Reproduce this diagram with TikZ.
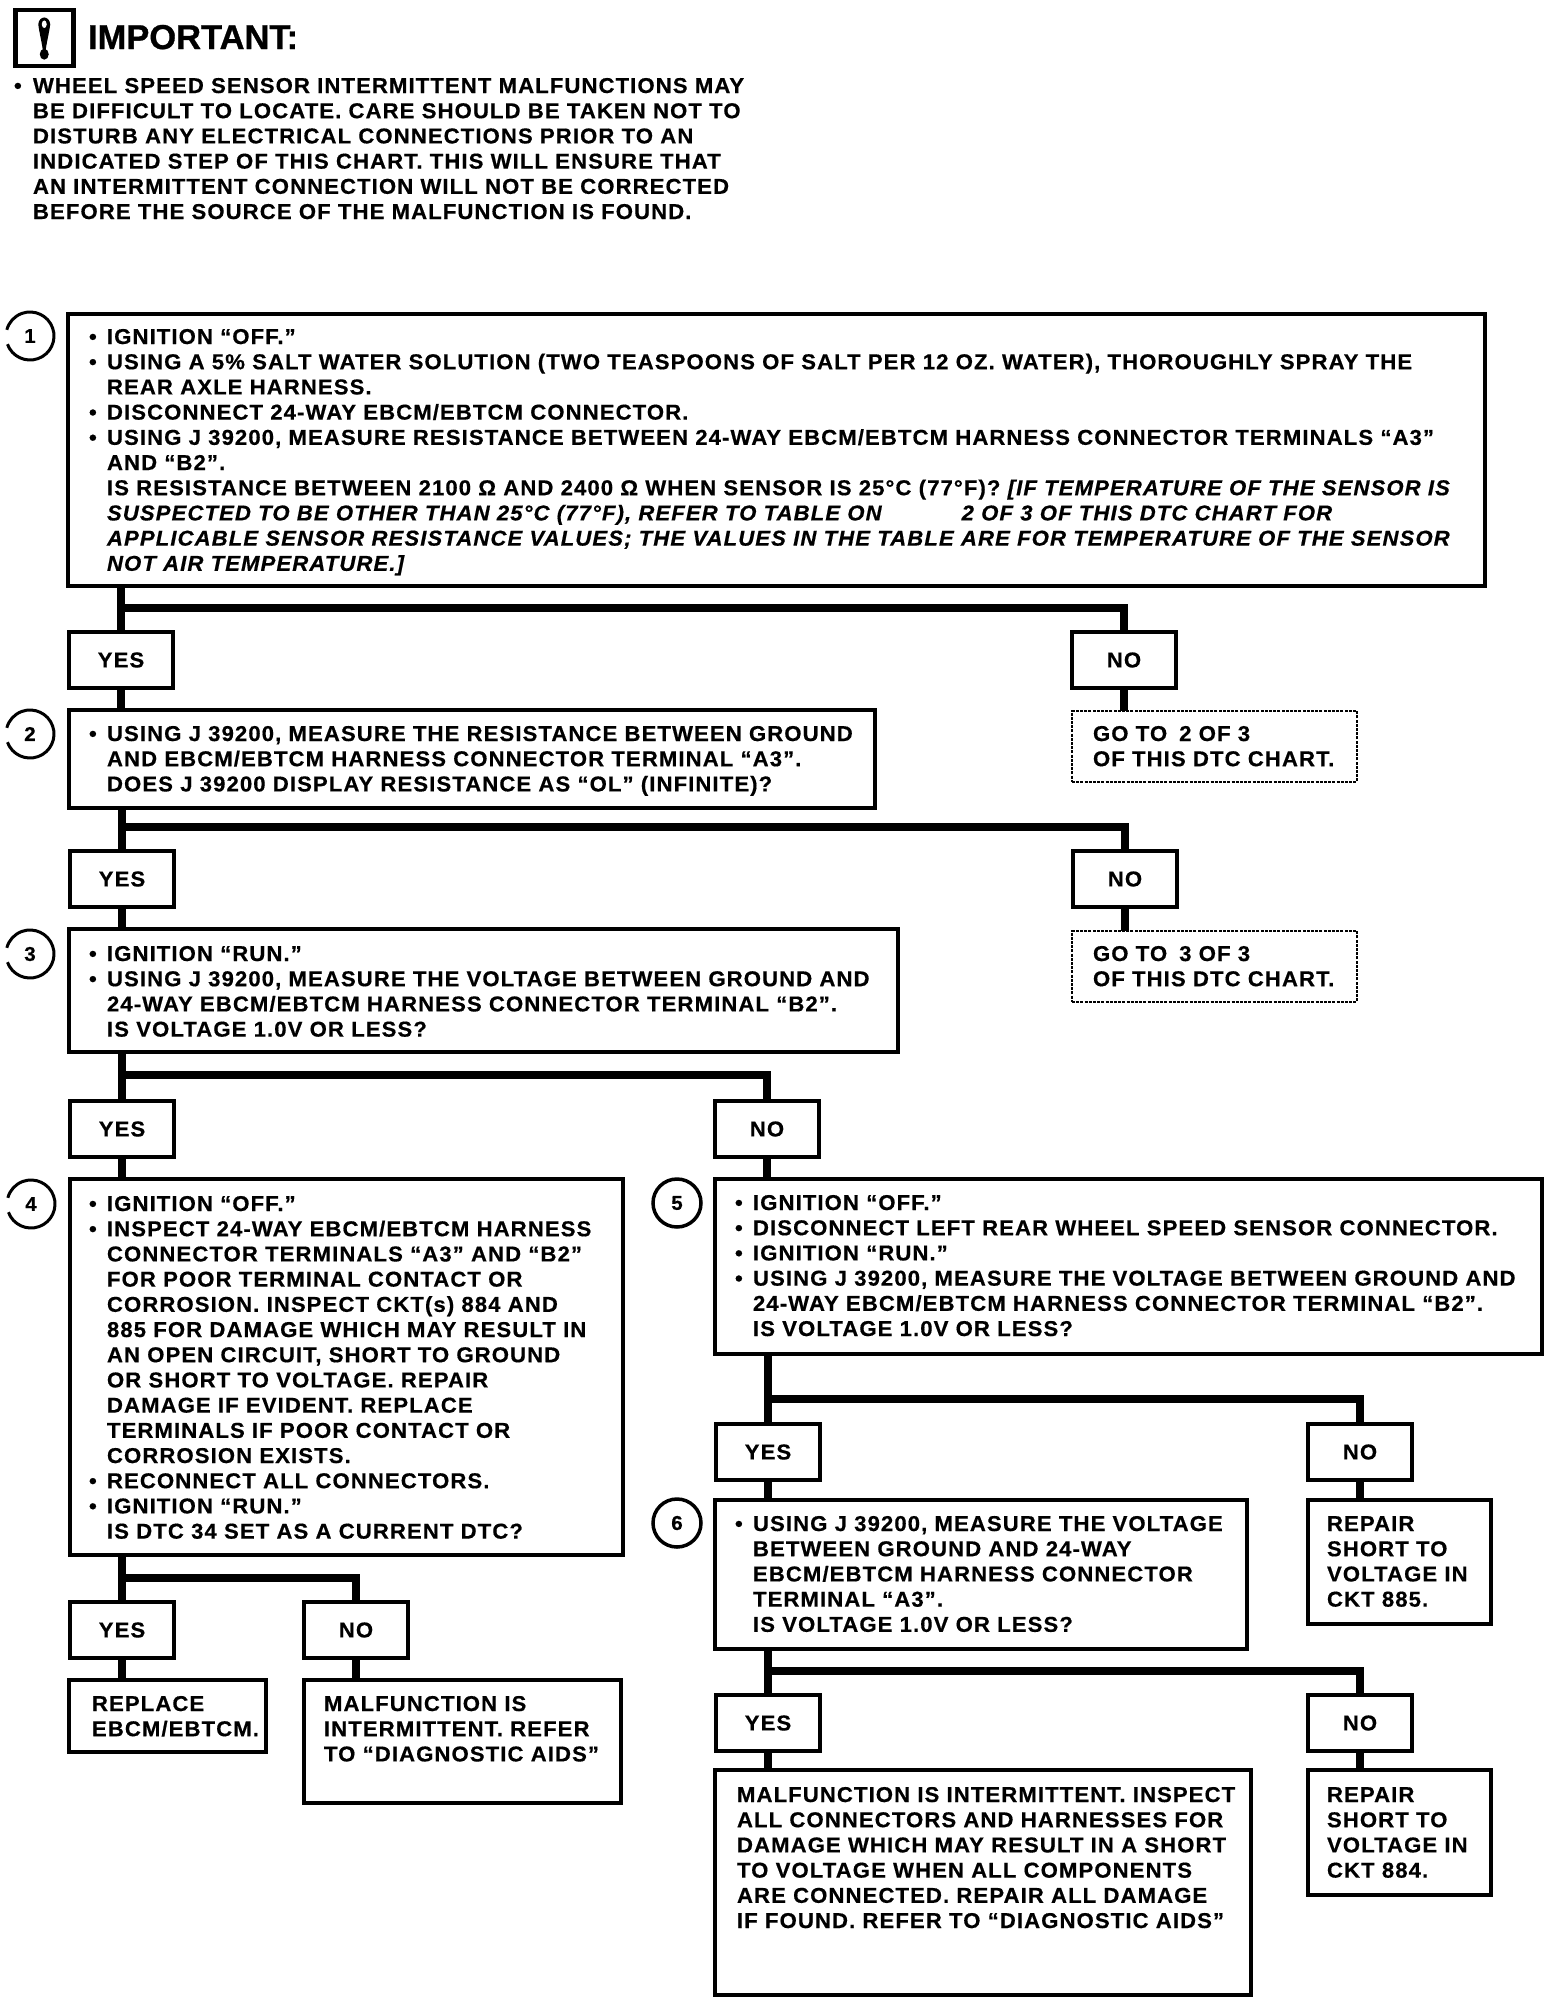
\documentclass[tikz,border=0pt]{standalone}
\usepackage{fontspec}
\setmainfont{Liberation Sans}[LetterSpace=5,FakeStretch=1.03,BoldFeatures={FakeBold=0.5},BoldItalicFeatures={FakeBold=0.5}]
\newfontfamily\impfont{Liberation Sans}[BoldFeatures={FakeBold=0.8}]
\newcommand{\rl}{\vrule height 16pt depth 5pt width 0pt}
\newcommand{\pln}[1]{\hbox{\rl\hspace{19pt}#1}}
\newcommand{\nln}[1]{\hbox{\rl #1}}
\newcommand{\bln}[1]{\hbox{\rl\makebox[19pt][l]{\hspace{1pt}\textbullet}#1}}
\newcommand{\fnt}{\fontsize{21.5}{25.2}\selectfont\bfseries\baselineskip=25.2pt\lineskiplimit=-100pt\relax}
% name, x0,y0,x1,y1, text x, first baseline y, lines, extra style
\newcommand{\bx}[9][stepbox]{%
  \pgfmathsetlengthmacro{\bW}{#4-#2}%
  \pgfmathsetlengthmacro{\bH}{#5-#3}%
  \pgfmathsetlengthmacro{\bPx}{#6-#2}%
  \pgfmathsetlengthmacro{\bPy}{#7-#3-16}%
  \node[#1,minimum width=\bW,minimum height=\bH] (#8) at (#2,#3)
   {\vbox to \bH{\hsize=\bW\fnt\hrule height 0pt width \bW\relax\vskip\bPy\relax\moveright\bPx\vbox{#9}\vss}};%
}
\tikzset{
  x=1pt,y=-1pt,
  stepbox/.style={draw=black,line width=3.5pt,fill=white,anchor=north west,inner sep=0pt,outer sep=0pt},
  gotobox/.style={stepbox,line width=2.5pt,dash pattern=on 3pt off 1.2pt},
  ans/.style={draw=black,line width=4pt,fill=white,minimum width=104pt,minimum height=56pt,inner sep=0pt,outer sep=0pt,font=\fontsize{21.5}{25}\selectfont\bfseries},
  conn/.style={draw=black,line width=7.5pt,line join=miter},
  num/.style={circle,minimum size=48pt,inner sep=0pt,outer sep=0pt,font=\fontsize{20}{24}\selectfont\bfseries},
  ring/.style={draw=black,line width=3pt},
  free/.style={anchor=north west,inner sep=0pt,outer sep=0pt}
}
\begin{document}
\begin{tikzpicture}
\useasboundingbox[fill=white] (0,0) rectangle (1568,2002);
% header
\node[draw=black,line width=4.5pt,minimum width=58pt,minimum height=56pt,inner sep=0pt,anchor=north west] (icon) at (13,8) {};
\begin{scope}[shift={(icon.center)}]
\fill (-6,-14) .. controls (-5,-23) and (5,-23) .. (6,-14)
  .. controls (5,-6) and (2,6) .. (1.5,12) -- (-1.5,12) .. controls (-2,6) and (-5,-6) .. (-6,-14) -- cycle;
\fill[white] (-2.5,-14) .. controls (-2,-19) and (2,-19) .. (2.5,-14) .. controls (2,-9) and (-2,-9) .. (-2.5,-14) -- cycle;
\fill (0,16) circle[x radius=4.5,y radius=5.5];
\end{scope}
\node[free,anchor=base west] (imp) at (88,49) {\impfont\fontsize{34.5}{36}\selectfont\bfseries IMPORTANT:};
\node[free] (note) at (14,77) {\vbox{\fnt
 \hbox{\rl\makebox[19pt][l]{\textbullet}WHEEL SPEED SENSOR INTERMITTENT MALFUNCTIONS MAY}
 \hbox{\rl\hspace{19pt}BE DIFFICULT TO LOCATE. CARE SHOULD BE TAKEN NOT TO}
 \hbox{\rl\hspace{19pt}DISTURB ANY ELECTRICAL CONNECTIONS PRIOR TO AN}
 \hbox{\rl\hspace{19pt}INDICATED STEP OF THIS CHART. THIS WILL ENSURE THAT}
 \hbox{\rl\hspace{19pt}AN INTERMITTENT CONNECTION WILL NOT BE CORRECTED}
 \hbox{\rl\hspace{19pt}BEFORE THE SOURCE OF THE MALFUNCTION IS FOUND.}}};
% step boxes
\bx{68}{314}{1485}{586}{88}{344}{b1}{%
 \bln{IGNITION “OFF.”}
 \bln{USING A 5\% SALT WATER SOLUTION (TWO TEASPOONS OF SALT PER 12 OZ. WATER), THOROUGHLY SPRAY THE}
 \pln{REAR AXLE HARNESS.}
 \bln{DISCONNECT 24-WAY EBCM/EBTCM CONNECTOR.}
 \bln{USING J 39200, MEASURE RESISTANCE BETWEEN 24-WAY EBCM/EBTCM HARNESS CONNECTOR TERMINALS “A3”}
 \pln{AND “B2”.}
 \pln{IS RESISTANCE BETWEEN 2100 Ω AND 2400 Ω WHEN SENSOR IS 25°C (77°F)? {\itshape [IF TEMPERATURE OF THE SENSOR IS}}
 \pln{\itshape SUSPECTED TO BE OTHER THAN 25°C (77°F), REFER TO TABLE ON\hspace{80pt}2 OF 3 OF THIS DTC CHART FOR}
 \pln{\itshape APPLICABLE SENSOR RESISTANCE VALUES; THE VALUES IN THE TABLE ARE FOR TEMPERATURE OF THE SENSOR}
 \pln{\itshape NOT AIR TEMPERATURE.]}}
\bx{69}{710}{875}{808}{88}{741}{b2}{%
 \bln{USING J 39200, MEASURE THE RESISTANCE BETWEEN GROUND}
 \pln{AND EBCM/EBTCM HARNESS CONNECTOR TERMINAL “A3”.}
 \pln{DOES J 39200 DISPLAY RESISTANCE AS “OL” (INFINITE)?}}
\bx{69}{929}{898}{1052}{88}{961}{b3}{%
 \bln{IGNITION “RUN.”}
 \bln{USING J 39200, MEASURE THE VOLTAGE BETWEEN GROUND AND}
 \pln{24-WAY EBCM/EBTCM HARNESS CONNECTOR TERMINAL “B2”.}
 \pln{IS VOLTAGE 1.0V OR LESS?}}
\bx{70}{1179}{623}{1555}{88}{1211}{b4}{%
 \bln{IGNITION “OFF.”}
 \bln{INSPECT 24-WAY EBCM/EBTCM HARNESS}
 \pln{CONNECTOR TERMINALS “A3” AND “B2”}
 \pln{FOR POOR TERMINAL CONTACT OR}
 \pln{CORROSION. INSPECT CKT(s) 884 AND}
 \pln{885 FOR DAMAGE WHICH MAY RESULT IN}
 \pln{AN OPEN CIRCUIT, SHORT TO GROUND}
 \pln{OR SHORT TO VOLTAGE. REPAIR}
 \pln{DAMAGE IF EVIDENT. REPLACE}
 \pln{TERMINALS IF POOR CONTACT OR}
 \pln{CORROSION EXISTS.}
 \bln{RECONNECT ALL CONNECTORS.}
 \bln{IGNITION “RUN.”}
 \pln{IS DTC 34 SET AS A CURRENT DTC?}}
\bx{715}{1179}{1542}{1354}{734}{1210}{b5}{%
 \bln{IGNITION “OFF.”}
 \bln{DISCONNECT LEFT REAR WHEEL SPEED SENSOR CONNECTOR.}
 \bln{IGNITION “RUN.”}
 \bln{USING J 39200, MEASURE THE VOLTAGE BETWEEN GROUND AND}
 \pln{24-WAY EBCM/EBTCM HARNESS CONNECTOR TERMINAL “B2”.}
 \pln{IS VOLTAGE 1.0V OR LESS?}}
\bx{715}{1500}{1247}{1649}{734}{1531}{b6}{%
 \bln{USING J 39200, MEASURE THE VOLTAGE}
 \pln{BETWEEN GROUND AND 24-WAY}
 \pln{EBCM/EBTCM HARNESS CONNECTOR}
 \pln{TERMINAL “A3”.}
 \pln{IS VOLTAGE 1.0V OR LESS?}}
\bx{69}{1680}{266}{1752}{92}{1711}{r1}{%
 \nln{REPLACE}
 \nln{EBCM/EBTCM.}}
\bx{304}{1680}{621}{1803}{324}{1711}{r2}{%
 \nln{MALFUNCTION IS}
 \nln{INTERMITTENT. REFER}
 \nln{TO “DIAGNOSTIC AIDS”}}
\bx{1308}{1500}{1491}{1624}{1327}{1531}{r3}{%
 \nln{REPAIR}
 \nln{SHORT TO}
 \nln{VOLTAGE IN}
 \nln{CKT 885.}}
\bx{1308}{1770}{1491}{1895}{1327}{1802}{r4}{%
 \nln{REPAIR}
 \nln{SHORT TO}
 \nln{VOLTAGE IN}
 \nln{CKT 884.}}
\bx{715}{1770}{1251}{1995}{737}{1802}{r5}{%
 \nln{MALFUNCTION IS INTERMITTENT. INSPECT}
 \nln{ALL CONNECTORS AND HARNESSES FOR}
 \nln{DAMAGE WHICH MAY RESULT IN A SHORT}
 \nln{TO VOLTAGE WHEN ALL COMPONENTS}
 \nln{ARE CONNECTED. REPAIR ALL DAMAGE}
 \nln{IF FOUND. REFER TO “DIAGNOSTIC AIDS”}}
\bx[gotobox]{1072}{711}{1357}{782}{1093}{741}{g1}{%
 \nln{GO TO\hspace{12pt}2 OF 3}
 \nln{OF THIS DTC CHART.}}
\bx[gotobox]{1072}{931}{1357}{1002}{1093}{961}{g2}{%
 \nln{GO TO\hspace{12pt}3 OF 3}
 \nln{OF THIS DTC CHART.}}
% answers
\node[ans] (y1) at (121,660) {YES};
\node[ans] (n1) at (1124,660) {NO};
\node[ans] (y2) at (122,879) {YES};
\node[ans] (n2) at (1125,879) {NO};
\node[ans] (y3) at (122,1129) {YES};
\node[ans] (n3) at (767,1129) {NO};
\node[ans] (y4) at (122,1630) {YES};
\node[ans] (n4) at (356,1630) {NO};
\node[ans] (y5) at (768,1452) {YES};
\node[ans] (n5) at (1360,1452) {NO};
\node[ans] (y6) at (768,1723) {YES};
\node[ans] (n6) at (1360,1723) {NO};
% step numbers
\node[num] (c1) at (30,336) {1};
\node[num] (c2) at (30,734) {2};
\node[num] (c3) at (30,954) {3};
\node[num] (c4) at (31,1204) {4};
\node[num,ring,line width=3.5pt] (c5) at (677,1203) {5};
\node[num,ring,line width=3.5pt] (c6) at (677,1523) {6};
\draw[ring] (c1.200) arc[start angle=200,end angle=525,radius=24pt];
\draw[ring] (c2.200) arc[start angle=200,end angle=525,radius=24pt];
\draw[ring] (c3.200) arc[start angle=200,end angle=525,radius=24pt];
\draw[ring] (c4.200) arc[start angle=200,end angle=525,radius=24pt];
% connectors
\coordinate (j1) at (y1.north |- 0,608);
\coordinate (j2) at (y2.north |- 0,827);
\coordinate (j3) at (y3.north |- 0,1075);
\coordinate (j4) at (y4.north |- 0,1578);
\coordinate (j5) at (y5.north |- 0,1399);
\coordinate (j6) at (y6.north |- 0,1671);
\draw[conn] (b1.south -| y1.north) -- (y1.north);
\draw[conn] (j1) -| (n1.north);
\draw[conn] (y1.south) -- (b2.north -| y1.south);
\draw[conn] (n1.south) -- (g1.north -| n1.south);
\draw[conn] (b2.south -| y2.north) -- (y2.north);
\draw[conn] (j2) -| (n2.north);
\draw[conn] (y2.south) -- (b3.north -| y2.south);
\draw[conn] (n2.south) -- (g2.north -| n2.south);
\draw[conn] (b3.south -| y3.north) -- (y3.north);
\draw[conn] (j3) -| (n3.north);
\draw[conn] (y3.south) -- (b4.north -| y3.south);
\draw[conn] (n3.south) -- (b5.north -| n3.south);
\draw[conn] (b4.south -| y4.north) -- (y4.north);
\draw[conn] (j4) -| (n4.north);
\draw[conn] (y4.south) -- (r1.north -| y4.south);
\draw[conn] (n4.south) -- (r2.north -| n4.south);
\draw[conn] (b5.south -| y5.north) -- (y5.north);
\draw[conn] (j5) -| (n5.north);
\draw[conn] (y5.south) -- (b6.north -| y5.south);
\draw[conn] (n5.south) -- (r3.north -| n5.south);
\draw[conn] (b6.south -| y6.north) -- (y6.north);
\draw[conn] (j6) -| (n6.north);
\draw[conn] (y6.south) -- (r5.north -| y6.south);
\draw[conn] (n6.south) -- (r4.north -| n6.south);
\end{tikzpicture}
\end{document}
